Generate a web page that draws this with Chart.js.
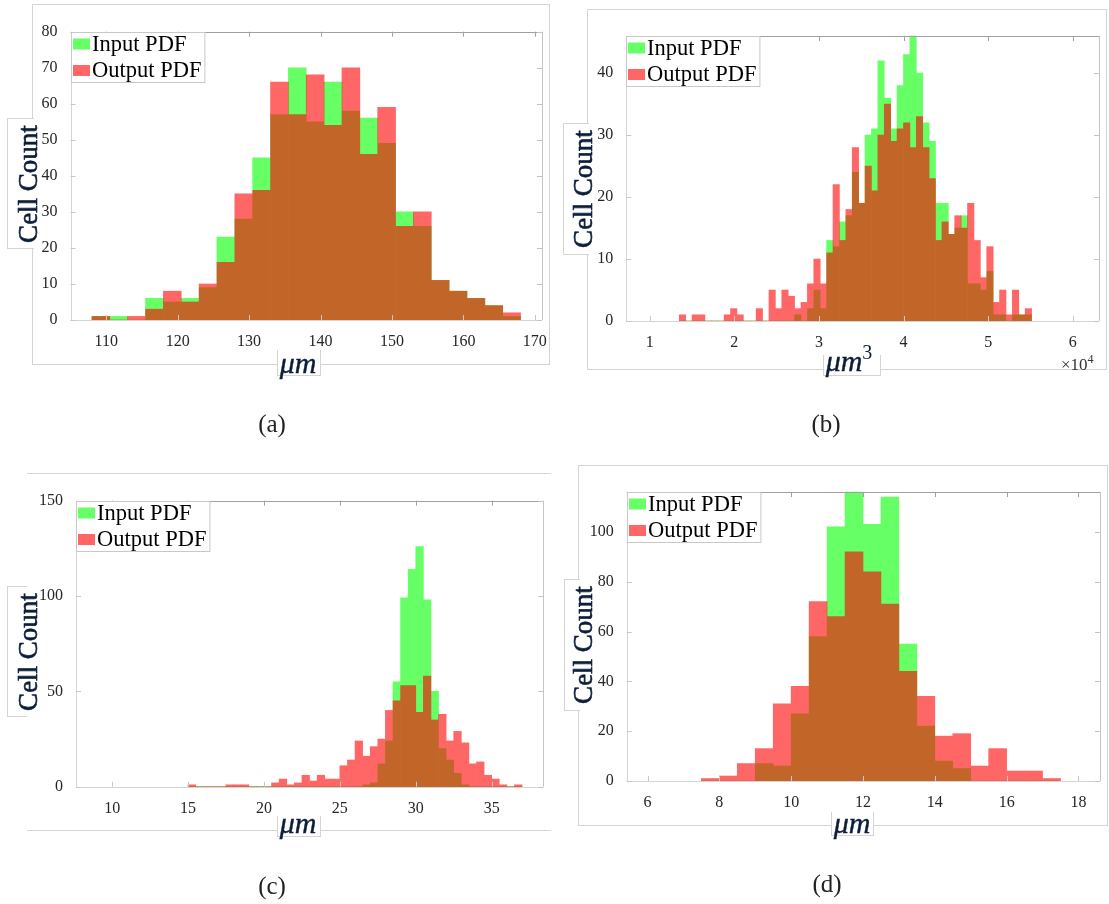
<!DOCTYPE html>
<html>
<head>
<meta charset="utf-8">
<script src="https://cdn.jsdelivr.net/npm/chart.js@4.4.1/dist/chart.umd.min.js"></script>
<style>
  body { margin: 0; background: #fff; }
  #page { position: relative; width: 1109px; height: 904px; overflow: hidden; font-family: 'Liberation Serif', serif; }
  canvas { position: absolute; z-index: 1; }
  .frame { position: absolute; border: 1px solid #d4d4d4; box-sizing: border-box; z-index: 0; }
  .lbox { position: absolute; background: #fff; border: 1px solid #d4d4d4; box-sizing: border-box; z-index: 2; }
  .txt { position: absolute; white-space: nowrap; z-index: 3; transform: translate(-50%, -50%); line-height: 1; }
  .ylab { font-size: 27px; color: #0c1d3a; -webkit-text-stroke: 0.6px #0c1d3a; transform: translate(-50%, -50%) rotate(-90deg); }
  .xlab { font-size: 30px; font-style: italic; color: #0c1d3a; -webkit-text-stroke: 0.4px #0c1d3a; }
  .xlab sup { font-style: normal; font-size: 20px; vertical-align: 12px; -webkit-text-stroke: 0; }
  .cap { font-size: 25px; color: #222; }
  .mult { position: absolute; z-index: 3; font-size: 17px; color: #333; line-height: 1; }
  .mult sup { font-size: 12px; vertical-align: 7px; }
</style>
</head>
<body>
<div id="page">
  <!-- panel frames -->
  <div class="frame" style="left:32px;top:4px;width:518px;height:361px"></div>
  <div class="frame" style="left:587px;top:9px;width:520px;height:361px"></div>
  <div class="frame" style="left:27px;top:473px;width:524px;height:358px;border-left:none;border-right:none"></div>
  <div class="frame" style="left:578px;top:465px;width:530px;height:361px"></div>

  <canvas id="histA" width="560" height="440" style="left:0;top:0"></canvas>
  <canvas id="histB" width="554" height="440" style="left:555px;top:0"></canvas>
  <canvas id="histC" width="560" height="440" style="left:0;top:440px"></canvas>
  <canvas id="histD" width="554" height="440" style="left:555px;top:440px"></canvas>

  <!-- label boxes over the frame lines -->
  <div class="lbox" style="left:7px;top:118px;width:27px;height:131px;border-right:none"></div>
  <div class="lbox" style="left:277px;top:350px;width:44px;height:26px;border-top:none"></div>
  <div class="lbox" style="left:563px;top:123px;width:26px;height:132px;border-right:none"></div>
  <div class="lbox" style="left:823px;top:355px;width:58px;height:21px;border-top:none"></div>
  <div class="lbox" style="left:7px;top:586px;width:20px;height:131px;border-right:none"></div>
  <div class="lbox" style="left:277px;top:816px;width:44px;height:21px;border-top:none"></div>
  <div class="lbox" style="left:564px;top:579px;width:16px;height:132px;border-right:none"></div>
  <div class="lbox" style="left:831px;top:812px;width:43px;height:24px;border-top:none"></div>

  <!-- axis labels and captions -->
  <div class="txt ylab" style="left:28px;top:184px">Cell Count</div>
  <div class="txt xlab" style="left:298px;top:363px">μm</div>
  <div class="txt cap" style="left:272px;top:423px">(a)</div>

  <div class="txt ylab" style="left:583px;top:189px">Cell Count</div>
  <div class="txt xlab" style="left:849px;top:359px">μm<sup>3</sup></div>
  <div class="mult" style="left:1061px;top:353px">×10<sup>4</sup></div>
  <div class="txt cap" style="left:826px;top:423px">(b)</div>

  <div class="txt ylab" style="left:28px;top:652px">Cell Count</div>
  <div class="txt xlab" style="left:298px;top:823px">μm</div>
  <div class="txt cap" style="left:272px;top:885px">(c)</div>

  <div class="txt ylab" style="left:583px;top:645px">Cell Count</div>
  <div class="txt xlab" style="left:852px;top:823px">μm</div>
  <div class="txt cap" style="left:827px;top:883px">(d)</div>
</div>
<script>
// (a) length histogram, bins of 2.5 from 108
const binStartA = 108, binWidthA = 2.5;
const inputA  = [1, 1, 0, 6, 5, 6, 9, 23, 28, 45, 57, 70, 55, 66, 58, 56, 49, 30, 26, 11, 8, 6, 4, 1];
const outputA = [1, 0, 1, 3, 8, 5, 10, 16, 35, 36, 66, 57, 68, 54, 70, 46, 59, 26, 30, 11, 8, 6, 4, 2];
const xTicksA = [110, 120, 130, 140, 150, 160, 170];
const yTicksA = [0, 10, 20, 30, 40, 50, 60, 70, 80];

// (b) volume histogram (x in units of 1e4 um^3)
const binStartB = 1.350, binWidthB = 0.0757;
const inputB  = [0, 0, 0, 0, 0, 0, 0, 0, 0, 0, 0, 0, 0, 0, 0, 0, 0, 0, 1, 0,
                 2, 5, 2, 13, 12, 16, 17, 24, 19, 30, 31, 42, 36, 31, 38, 43, 46, 40, 32, 29,
                 19, 19, 14, 15, 17, 6, 6, 5, 8, 1, 1, 0, 1, 1, 1];
const outputB = [1, 0, 1, 1, 0, 0, 0, 1, 2, 1, 0, 0, 2, 0, 5, 2, 5, 4, 2, 3,
                 6, 10, 6, 11, 22, 13, 18, 28, 19, 25, 21, 30, 35, 29, 31, 32, 28, 33, 28, 23,
                 13, 16, 14, 17, 15, 19, 13, 7, 12, 3, 5, 1, 5, 1, 2];
const xTicksB = [1, 2, 3, 4, 5, 6];
const yTicksB = [0, 10, 20, 30, 40];

// (c) bins of 0.5 from 15
const binStartC = 15, binWidthC = 0.5;
const inputC  = [0, 0, 0, 0, 0, 0, 0, 0, 0, 0, 0, 0, 0, 0, 0, 0, 0, 0, 0, 0,
                 0, 0, 0, 1, 2, 12, 24, 55, 99, 114, 126, 98, 50, 20, 14, 7, 1, 0, 0, 0,
                 0, 0, 0, 0];
const outputC = [1, 0, 0, 0, 0, 1, 1, 1, 0, 0, 0, 2, 4, 1, 2, 6, 3, 6, 4, 4,
                 11, 14, 24, 16, 21, 25, 40, 45, 53, 53, 39, 58, 35, 38, 24, 29, 23, 12, 13, 6,
                 4, 1, 0, 1];
const xTicksC = [10, 15, 20, 25, 30, 35];
const yTicksC = [0, 50, 100, 150];

// (d) bins of 0.5 from 7.5
const binStartD = 7.5, binWidthD = 0.5;
const inputD  = [0, 0, 0, 7, 6, 27, 58, 102, 116, 103, 114, 55, 22, 8, 5, 0, 0, 0, 0, 0];
const outputD = [1, 2, 7, 13, 31, 38, 72, 66, 92, 84, 71, 44, 34, 18, 19, 6, 13, 4, 4, 1];
const xTicksD = [6, 8, 10, 12, 14, 16, 18];
const yTicksD = [0, 20, 40, 60, 80, 100];

const faceAlpha = 0.6;
const tickFont = { family: "'Liberation Serif', serif", size: 16 };

function histData(start, width, counts) {
  return counts.map((c, i) => ({ x: start + (i + 0.5) * width, y: c }));
}

// each dataset is drawn opaque on a scratch layer, then laid down at faceAlpha,
// so neighbouring bins do not leave seams
const alphaLayer = {
  id: 'alphaLayer',
  beforeDatasetDraw(chart, args) {
    const ctrl = args.meta.controller;
    if (!ctrl || !('_ctx' in ctrl)) return;
    const off = document.createElement('canvas');
    off.width = chart.canvas.width;
    off.height = chart.canvas.height;
    chart.$layer = off;
    ctrl._ctx = off.getContext('2d');
  },
  afterDatasetDraw(chart, args) {
    if (!chart.$layer) return;
    args.meta.controller._ctx = chart.ctx;
    const ctx = chart.ctx;
    ctx.save();
    ctx.setTransform(1, 0, 0, 1, 0, 0);
    ctx.globalAlpha = faceAlpha;
    ctx.drawImage(chart.$layer, 0, 0);
    ctx.restore();
    chart.$layer = null;
  }
};

// axes box with inward tick marks, like the matlab figure
const frameBox = {
  id: 'frameBox',
  afterDatasetsDraw(chart) {
    const { ctx, chartArea: a, scales } = chart;
    const px = v => Math.round(v) + 0.5;
    const line = (x1, y1, x2, y2, c) => {
      ctx.strokeStyle = c;
      ctx.beginPath(); ctx.moveTo(x1, y1); ctx.lineTo(x2, y2); ctx.stroke();
    };
    ctx.save();
    ctx.lineWidth = 1;
    line(a.left, px(a.top), a.right, px(a.top), '#a0a0a0');
    line(px(a.right), a.top, px(a.right), a.bottom, '#c4c4c4');
    line(a.left, px(a.bottom), a.right, px(a.bottom), '#d4d4d4');
    line(px(a.left), a.top, px(a.left), a.bottom, '#d4d4d4');
    scales.x.ticks.forEach(t => {
      const x = px(scales.x.getPixelForValue(t.value));
      line(x, a.bottom, x, a.bottom - 5, '#c8c8c8');
      line(x, a.top, x, a.top + 5, '#a0a0a0');
    });
    scales.y.ticks.forEach(t => {
      const y = px(scales.y.getPixelForValue(t.value));
      line(a.left, y, a.left + 5, y, '#c8c8c8');
      line(a.right, y, a.right - 5, y, '#c4c4c4');
    });
    ctx.restore();
  }
};

// boxed legend in the top-left corner of the plot
const boxLegend = {
  id: 'boxLegend',
  afterDraw(chart) {
    const { ctx, chartArea: a } = chart;
    const sets = chart.data.datasets;
    ctx.save();
    ctx.font = "22.5px 'Liberation Serif', serif";
    const tw = Math.max(...sets.map(d => ctx.measureText(d.label).width));
    const x0 = Math.round(a.left), y0 = Math.round(a.top);
    const w = 21 + tw + 3, h = 50;
    ctx.fillStyle = '#fff';
    ctx.fillRect(x0, y0, w, h);
    ctx.strokeStyle = '#c8c8c8';
    ctx.lineWidth = 1;
    ctx.strokeRect(x0 + 0.5, y0 + 0.5, w, h);
    ctx.textBaseline = 'middle';
    sets.forEach((d, i) => {
      const cy = y0 + 12 + i * 26.5;
      ctx.globalAlpha = faceAlpha;
      ctx.fillStyle = d.backgroundColor;
      ctx.fillRect(x0 + 2, cy - 5.5, 17, 11);
      ctx.globalAlpha = 1;
      ctx.fillStyle = '#000';
      ctx.fillText(d.label, x0 + 21, cy + 1);
    });
    ctx.restore();
  }
};

function makeHist(id, c) {
  return new Chart(document.getElementById(id), {
    type: 'bar',
    data: {
      datasets: [
        { label: 'Input PDF', data: histData(c.start, c.width, c.input), backgroundColor: '#00ff00', order: 1 },
        { label: 'Output PDF', data: histData(c.start, c.width, c.output), backgroundColor: '#ff0000', order: 0 }
      ]
    },
    options: {
      responsive: false,
      animation: false,
      events: [],
      layout: { padding: c.pad },
      datasets: { bar: { grouped: false, barPercentage: 1, categoryPercentage: 1, borderWidth: 0 } },
      plugins: { legend: { display: false }, tooltip: { enabled: false } },
      scales: {
        x: {
          type: 'linear', offset: false, min: c.xMin, max: c.xMax,
          grid: { display: false }, border: { display: false },
          afterBuildTicks: s => { s.ticks = c.xTicks.map(v => ({ value: v })); },
          afterFit: s => { s.height = 40; },
          ticks: { padding: 4, color: '#262626', font: tickFont, maxRotation: 0, autoSkip: false }
        },
        y: {
          min: 0, max: c.yMax,
          grid: { display: false }, border: { display: false },
          afterBuildTicks: s => { s.ticks = c.yTicks.map(v => ({ value: v })); },
          afterFit: s => { s.width = 40; },
          ticks: { padding: 5, color: '#262626', font: tickFont, autoSkip: false }
        }
      }
    },
    plugins: [alphaLayer, frameBox, boxLegend]
  });
}

makeHist('histA', { start: binStartA, width: binWidthA, input: inputA, output: outputA,
  xMin: 105, xMax: 171, yMax: 80, xTicks: xTicksA, yTicks: yTicksA,
  pad: { left: 30.5, top: 31.7, right: 18, bottom: 80 } });
makeHist('histB', { start: binStartB, width: binWidthB, input: inputB, output: outputB,
  xMin: 0.724, xMax: 6.31, yMax: 46, xTicks: xTicksB, yTicks: yTicksB,
  pad: { left: 31.3, top: 36, right: 10, bottom: 79 } });
makeHist('histC', { start: binStartC, width: binWidthC, input: inputC, output: outputC,
  xMin: 7.62, xMax: 38.4, yMax: 150, xTicks: xTicksC, yTicks: yTicksC,
  pad: { left: 36, top: 60.7, right: 16.7, bottom: 53.3 } });
makeHist('histD', { start: binStartD, width: binWidthD, input: inputD, output: outputD,
  xMin: 5.42, xMax: 18.6, yMax: 116, xTicks: xTicksD, yTicks: yTicksD,
  pad: { left: 31.7, top: 52, right: 9, bottom: 59 } });
</script>
</body>
</html>
